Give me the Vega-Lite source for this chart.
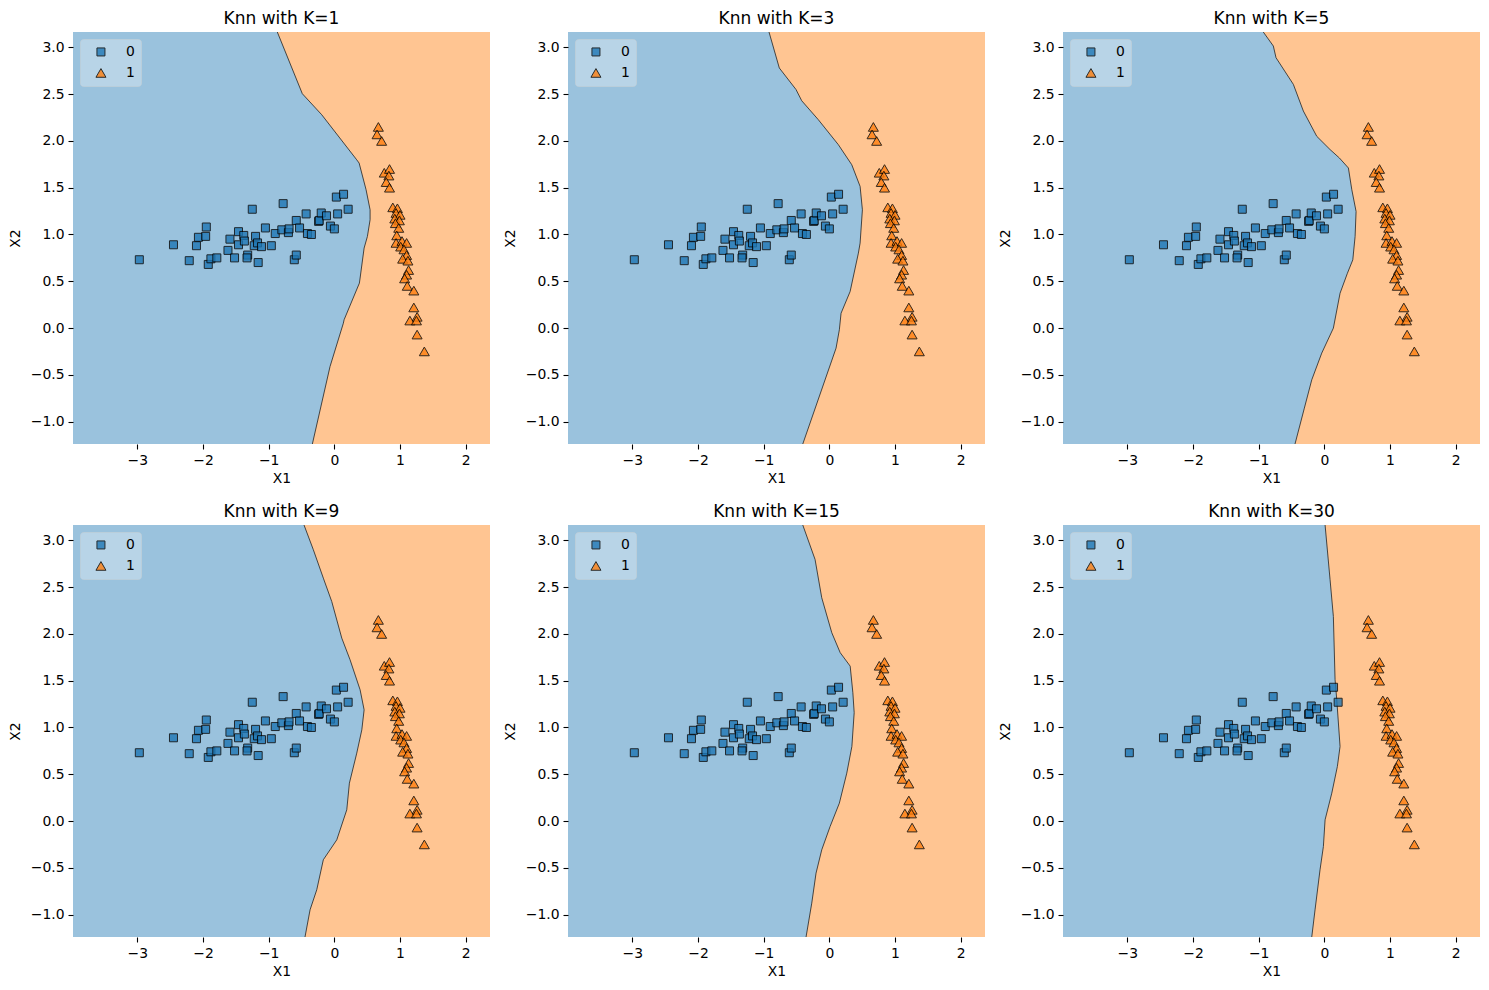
{
  "$schema": "https://vega.github.io/schema/vega-lite/v6.json",
  "padding": {"left": 8, "top": 10, "right": 5, "bottom": 5},
  "background": "white",
  "datasets": {
    "pts": [
      {"X1": -2.97, "X2": 0.73, "cls": "0"}, {"X1": -2.45, "X2": 0.89, "cls": "0"}, {"X1": -2.21, "X2": 0.72, "cls": "0"},
      {"X1": -2.10, "X2": 0.88, "cls": "0"}, {"X1": -2.07, "X2": 0.97, "cls": "0"}, {"X1": -1.96, "X2": 0.98, "cls": "0"},
      {"X1": -1.95, "X2": 1.08, "cls": "0"}, {"X1": -1.92, "X2": 0.68, "cls": "0"}, {"X1": -1.88, "X2": 0.74, "cls": "0"},
      {"X1": -1.79, "X2": 0.75, "cls": "0"}, {"X1": -1.62, "X2": 0.83, "cls": "0"}, {"X1": -1.59, "X2": 0.95, "cls": "0"},
      {"X1": -1.52, "X2": 0.75, "cls": "0"}, {"X1": -1.46, "X2": 1.03, "cls": "0"}, {"X1": -1.46, "X2": 0.89, "cls": "0"},
      {"X1": -1.38, "X2": 0.99, "cls": "0"}, {"X1": -1.37, "X2": 0.93, "cls": "0"}, {"X1": -1.32, "X2": 0.78, "cls": "0"},
      {"X1": -1.33, "X2": 0.75, "cls": "0"}, {"X1": -1.25, "X2": 1.27, "cls": "0"}, {"X1": -1.20, "X2": 0.98, "cls": "0"},
      {"X1": -1.22, "X2": 0.88, "cls": "0"}, {"X1": -1.17, "X2": 0.91, "cls": "0"}, {"X1": -1.11, "X2": 0.87, "cls": "0"},
      {"X1": -1.16, "X2": 0.70, "cls": "0"}, {"X1": -1.05, "X2": 1.07, "cls": "0"}, {"X1": -0.96, "X2": 0.88, "cls": "0"},
      {"X1": -0.90, "X2": 1.01, "cls": "0"}, {"X1": -0.80, "X2": 1.05, "cls": "0"}, {"X1": -0.78, "X2": 1.33, "cls": "0"},
      {"X1": -0.70, "X2": 1.02, "cls": "0"}, {"X1": -0.69, "X2": 1.06, "cls": "0"}, {"X1": -0.61, "X2": 0.73, "cls": "0"},
      {"X1": -0.58, "X2": 0.78, "cls": "0"}, {"X1": -0.58, "X2": 1.15, "cls": "0"}, {"X1": -0.53, "X2": 1.07, "cls": "0"},
      {"X1": -0.43, "X2": 1.22, "cls": "0"}, {"X1": -0.41, "X2": 1.01, "cls": "0"}, {"X1": -0.35, "X2": 1.00, "cls": "0"},
      {"X1": -0.24, "X2": 1.14, "cls": "0"}, {"X1": -0.23, "X2": 1.15, "cls": "0"}, {"X1": -0.20, "X2": 1.23, "cls": "0"},
      {"X1": -0.12, "X2": 1.20, "cls": "0"}, {"X1": -0.06, "X2": 1.09, "cls": "0"}, {"X1": 0.00, "X2": 1.06, "cls": "0"},
      {"X1": 0.05, "X2": 1.22, "cls": "0"}, {"X1": 0.03, "X2": 1.40, "cls": "0"}, {"X1": 0.14, "X2": 1.43, "cls": "0"},
      {"X1": 0.21, "X2": 1.27, "cls": "0"},
      {"X1": 0.67, "X2": 2.15, "cls": "1"}, {"X1": 0.65, "X2": 2.07, "cls": "1"}, {"X1": 0.72, "X2": 2.00, "cls": "1"},
      {"X1": 0.76, "X2": 1.66, "cls": "1"}, {"X1": 0.84, "X2": 1.70, "cls": "1"}, {"X1": 0.83, "X2": 1.63, "cls": "1"},
      {"X1": 0.79, "X2": 1.56, "cls": "1"}, {"X1": 0.84, "X2": 1.50, "cls": "1"}, {"X1": 0.89, "X2": 1.29, "cls": "1"},
      {"X1": 0.96, "X2": 1.28, "cls": "1"}, {"X1": 0.94, "X2": 1.23, "cls": "1"}, {"X1": 1.00, "X2": 1.21, "cls": "1"},
      {"X1": 0.92, "X2": 1.17, "cls": "1"}, {"X1": 0.99, "X2": 1.15, "cls": "1"}, {"X1": 0.93, "X2": 1.12, "cls": "1"},
      {"X1": 0.98, "X2": 1.07, "cls": "1"}, {"X1": 0.95, "X2": 0.99, "cls": "1"}, {"X1": 0.94, "X2": 0.91, "cls": "1"},
      {"X1": 1.03, "X2": 0.93, "cls": "1"}, {"X1": 1.10, "X2": 0.91, "cls": "1"}, {"X1": 1.01, "X2": 0.87, "cls": "1"},
      {"X1": 1.06, "X2": 0.84, "cls": "1"}, {"X1": 1.10, "X2": 0.78, "cls": "1"}, {"X1": 1.04, "X2": 0.74, "cls": "1"},
      {"X1": 1.12, "X2": 0.72, "cls": "1"}, {"X1": 1.13, "X2": 0.62, "cls": "1"}, {"X1": 1.10, "X2": 0.57, "cls": "1"},
      {"X1": 1.07, "X2": 0.53, "cls": "1"}, {"X1": 1.11, "X2": 0.45, "cls": "1"}, {"X1": 1.21, "X2": 0.40, "cls": "1"},
      {"X1": 1.21, "X2": 0.22, "cls": "1"}, {"X1": 1.26, "X2": 0.12, "cls": "1"}, {"X1": 1.15, "X2": 0.08, "cls": "1"},
      {"X1": 1.25, "X2": 0.08, "cls": "1"}, {"X1": 1.26, "X2": -0.07, "cls": "1"}, {"X1": 1.37, "X2": -0.25, "cls": "1"}
    ],
    "bd": [
      {"k": 1, "X1": -0.869, "X2": 3.165}, {"k": 1, "X1": -0.488, "X2": 2.505}, {"k": 1, "X1": -0.192, "X2": 2.28},
      {"k": 1, "X1": 0.341, "X2": 1.798}, {"k": 1, "X1": 0.377, "X2": 1.764}, {"k": 1, "X1": 0.483, "X2": 1.478},
      {"k": 1, "X1": 0.544, "X2": 1.264}, {"k": 1, "X1": 0.544, "X2": 1.157}, {"k": 1, "X1": 0.503, "X2": 0.979},
      {"k": 1, "X1": 0.453, "X2": 0.855}, {"k": 1, "X1": 0.392, "X2": 0.534}, {"k": 1, "X1": 0.381, "X2": 0.48},
      {"k": 1, "X1": 0.148, "X2": 0.088}, {"k": 1, "X1": 0.137, "X2": 0.052}, {"k": 1, "X1": -0.066, "X2": -0.412},
      {"k": 1, "X1": -0.335, "X2": -1.24},

      {"k": 3, "X1": -0.919, "X2": 3.165}, {"k": 3, "X1": -0.762, "X2": 2.78}, {"k": 3, "X1": -0.508, "X2": 2.55},
      {"k": 3, "X1": -0.421, "X2": 2.43}, {"k": 3, "X1": -0.168, "X2": 2.227}, {"k": 3, "X1": 0.137, "X2": 1.96},
      {"k": 3, "X1": 0.341, "X2": 1.746}, {"k": 3, "X1": 0.468, "X2": 1.514}, {"k": 3, "X1": 0.503, "X2": 1.264},
      {"k": 3, "X1": 0.468, "X2": 0.908}, {"k": 3, "X1": 0.442, "X2": 0.801}, {"k": 3, "X1": 0.316, "X2": 0.39},
      {"k": 3, "X1": 0.178, "X2": 0.158}, {"k": 3, "X1": 0.152, "X2": -0.019}, {"k": 3, "X1": 0.102, "X2": -0.215},
      {"k": 3, "X1": -0.405, "X2": -1.24},

      {"k": 5, "X1": -0.930, "X2": 3.165}, {"k": 5, "X1": -0.777, "X2": 3.015}, {"k": 5, "X1": -0.736, "X2": 2.89},
      {"k": 5, "X1": -0.472, "X2": 2.605}, {"k": 5, "X1": -0.320, "X2": 2.32}, {"k": 5, "X1": -0.116, "X2": 2.05},
      {"k": 5, "X1": 0.087, "X2": 1.908}, {"k": 5, "X1": 0.229, "X2": 1.818}, {"k": 5, "X1": 0.366, "X2": 1.711},
      {"k": 5, "X1": 0.418, "X2": 1.478}, {"k": 5, "X1": 0.483, "X2": 1.246}, {"k": 5, "X1": 0.468, "X2": 0.979},
      {"k": 5, "X1": 0.433, "X2": 0.729}, {"k": 5, "X1": 0.351, "X2": 0.586}, {"k": 5, "X1": 0.239, "X2": 0.372},
      {"k": 5, "X1": 0.137, "X2": -0.001}, {"k": 5, "X1": -0.040, "X2": -0.268}, {"k": 5, "X1": -0.192, "X2": -0.554},
      {"k": 5, "X1": -0.305, "X2": -0.857}, {"k": 5, "X1": -0.447, "X2": -1.24},

      {"k": 9, "X1": -0.462, "X2": 3.165}, {"k": 9, "X1": -0.32, "X2": 2.90}, {"k": 9, "X1": -0.168, "X2": 2.597},
      {"k": 9, "X1": -0.040, "X2": 2.347}, {"k": 9, "X1": 0.113, "X2": 1.955}, {"k": 9, "X1": 0.239, "X2": 1.724},
      {"k": 9, "X1": 0.392, "X2": 1.403}, {"k": 9, "X1": 0.453, "X2": 1.189}, {"k": 9, "X1": 0.418, "X2": 0.975},
      {"k": 9, "X1": 0.341, "X2": 0.726}, {"k": 9, "X1": 0.229, "X2": 0.405}, {"k": 9, "X1": 0.189, "X2": 0.12},
      {"k": 9, "X1": 0.037, "X2": -0.201}, {"k": 9, "X1": -0.168, "X2": -0.414}, {"k": 9, "X1": -0.268, "X2": -0.735},
      {"k": 9, "X1": -0.37, "X2": -0.949}, {"k": 9, "X1": -0.447, "X2": -1.24},

      {"k": 15, "X1": -0.405, "X2": 3.165}, {"k": 15, "X1": -0.218, "X2": 2.797}, {"k": 15, "X1": -0.116, "X2": 2.387},
      {"k": 15, "X1": 0.037, "X2": 2.013}, {"k": 15, "X1": 0.165, "X2": 1.80}, {"k": 15, "X1": 0.317, "X2": 1.656},
      {"k": 15, "X1": 0.358, "X2": 1.371}, {"k": 15, "X1": 0.378, "X2": 1.158}, {"k": 15, "X1": 0.343, "X2": 0.797},
      {"k": 15, "X1": 0.265, "X2": 0.512}, {"k": 15, "X1": 0.152, "X2": 0.191}, {"k": 15, "X1": 0.011, "X2": -0.059},
      {"k": 15, "X1": -0.116, "X2": -0.308}, {"k": 15, "X1": -0.203, "X2": -0.557}, {"k": 15, "X1": -0.268, "X2": -0.878},
      {"k": 15, "X1": -0.355, "X2": -1.24},

      {"k": 30, "X1": 0.011, "X2": 3.165}, {"k": 30, "X1": 0.087, "X2": 2.58}, {"k": 30, "X1": 0.137, "X2": 2.187},
      {"k": 30, "X1": 0.163, "X2": 1.51}, {"k": 30, "X1": 0.189, "X2": 1.296}, {"k": 30, "X1": 0.239, "X2": 0.797},
      {"k": 30, "X1": 0.198, "X2": 0.583}, {"k": 30, "X1": 0.113, "X2": 0.298}, {"k": 30, "X1": 0.011, "X2": 0.013},
      {"k": 30, "X1": -0.015, "X2": -0.273}, {"k": 30, "X1": -0.066, "X2": -0.522}, {"k": 30, "X1": -0.142, "X2": -0.95},
      {"k": 30, "X1": -0.192, "X2": -1.24}
    ]
  },
  "columns": 3,
  "spacing": {"row": 81, "column": 78},
  "bounds": "flush",
  "resolve": {
    "scale": {"color": "independent", "shape": "independent", "size": "independent"},
    "legend": {"color": "independent", "shape": "independent"}
  },
  "concat": [
    {
      "title": "Knn with K=1", "width": 417, "height": 412,
      "encoding": {
        "x": {"field": "X1", "type": "quantitative", "title": "X1", "scale": {"domain": [-3.98, 2.37], "nice": false, "zero": false}, "axis": {"values": [-3, -2, -1, 0, 1, 2], "format": "d"}},
        "y": {"field": "X2", "type": "quantitative", "title": "X2", "scale": {"domain": [-1.24, 3.165], "nice": false, "zero": false}, "axis": {"values": [-1, -0.5, 0, 0.5, 1, 1.5, 2, 2.5, 3], "format": ".1f"}}
      },
      "layer": [
        {"data": {"name": "bd"}, "transform": [{"filter": "datum.k == 1"}], "mark": {"type": "area", "orient": "horizontal", "color": "#FFC592", "clip": true}, "encoding": {"x2": {"datum": 2.37}}},
        {"data": {"name": "bd"}, "transform": [{"filter": "datum.k == 1"}], "mark": {"type": "line", "orient": "horizontal", "color": "#222222", "strokeWidth": 0.8, "clip": true}, "encoding": {"order": {"field": "X2", "type": "quantitative"}}},
        {"data": {"name": "pts"}, "mark": {"type": "point", "filled": true, "stroke": "black", "strokeWidth": 1, "opacity": 0.8}, "encoding": {
          "color": {"field": "cls", "type": "nominal", "scale": {"domain": ["0", "1"], "range": ["#1f77b4", "#ff7f0e"]}, "legend": {"title": null}},
          "shape": {"field": "cls", "type": "nominal", "scale": {"domain": ["0", "1"], "range": ["square", "triangle-up"]}, "legend": {"title": null}},
          "size": {"field": "cls", "type": "ordinal", "scale": {"domain": ["0", "1"], "range": [64, 100]}, "legend": null}}}
      ]
    },
    {
      "title": "Knn with K=3", "width": 417, "height": 412,
      "encoding": {
        "x": {"field": "X1", "type": "quantitative", "title": "X1", "scale": {"domain": [-3.98, 2.37], "nice": false, "zero": false}, "axis": {"values": [-3, -2, -1, 0, 1, 2], "format": "d"}},
        "y": {"field": "X2", "type": "quantitative", "title": "X2", "scale": {"domain": [-1.24, 3.165], "nice": false, "zero": false}, "axis": {"values": [-1, -0.5, 0, 0.5, 1, 1.5, 2, 2.5, 3], "format": ".1f"}}
      },
      "layer": [
        {"data": {"name": "bd"}, "transform": [{"filter": "datum.k == 3"}], "mark": {"type": "area", "orient": "horizontal", "color": "#FFC592", "clip": true}, "encoding": {"x2": {"datum": 2.37}}},
        {"data": {"name": "bd"}, "transform": [{"filter": "datum.k == 3"}], "mark": {"type": "line", "orient": "horizontal", "color": "#222222", "strokeWidth": 0.8, "clip": true}, "encoding": {"order": {"field": "X2", "type": "quantitative"}}},
        {"data": {"name": "pts"}, "mark": {"type": "point", "filled": true, "stroke": "black", "strokeWidth": 1, "opacity": 0.8}, "encoding": {
          "color": {"field": "cls", "type": "nominal", "scale": {"domain": ["0", "1"], "range": ["#1f77b4", "#ff7f0e"]}, "legend": {"title": null}},
          "shape": {"field": "cls", "type": "nominal", "scale": {"domain": ["0", "1"], "range": ["square", "triangle-up"]}, "legend": {"title": null}},
          "size": {"field": "cls", "type": "ordinal", "scale": {"domain": ["0", "1"], "range": [64, 100]}, "legend": null}}}
      ]
    },
    {
      "title": "Knn with K=5", "width": 417, "height": 412,
      "encoding": {
        "x": {"field": "X1", "type": "quantitative", "title": "X1", "scale": {"domain": [-3.98, 2.37], "nice": false, "zero": false}, "axis": {"values": [-3, -2, -1, 0, 1, 2], "format": "d"}},
        "y": {"field": "X2", "type": "quantitative", "title": "X2", "scale": {"domain": [-1.24, 3.165], "nice": false, "zero": false}, "axis": {"values": [-1, -0.5, 0, 0.5, 1, 1.5, 2, 2.5, 3], "format": ".1f"}}
      },
      "layer": [
        {"data": {"name": "bd"}, "transform": [{"filter": "datum.k == 5"}], "mark": {"type": "area", "orient": "horizontal", "color": "#FFC592", "clip": true}, "encoding": {"x2": {"datum": 2.37}}},
        {"data": {"name": "bd"}, "transform": [{"filter": "datum.k == 5"}], "mark": {"type": "line", "orient": "horizontal", "color": "#222222", "strokeWidth": 0.8, "clip": true}, "encoding": {"order": {"field": "X2", "type": "quantitative"}}},
        {"data": {"name": "pts"}, "mark": {"type": "point", "filled": true, "stroke": "black", "strokeWidth": 1, "opacity": 0.8}, "encoding": {
          "color": {"field": "cls", "type": "nominal", "scale": {"domain": ["0", "1"], "range": ["#1f77b4", "#ff7f0e"]}, "legend": {"title": null}},
          "shape": {"field": "cls", "type": "nominal", "scale": {"domain": ["0", "1"], "range": ["square", "triangle-up"]}, "legend": {"title": null}},
          "size": {"field": "cls", "type": "ordinal", "scale": {"domain": ["0", "1"], "range": [64, 100]}, "legend": null}}}
      ]
    },
    {
      "title": "Knn with K=9", "width": 417, "height": 412,
      "encoding": {
        "x": {"field": "X1", "type": "quantitative", "title": "X1", "scale": {"domain": [-3.98, 2.37], "nice": false, "zero": false}, "axis": {"values": [-3, -2, -1, 0, 1, 2], "format": "d"}},
        "y": {"field": "X2", "type": "quantitative", "title": "X2", "scale": {"domain": [-1.24, 3.165], "nice": false, "zero": false}, "axis": {"values": [-1, -0.5, 0, 0.5, 1, 1.5, 2, 2.5, 3], "format": ".1f"}}
      },
      "layer": [
        {"data": {"name": "bd"}, "transform": [{"filter": "datum.k == 9"}], "mark": {"type": "area", "orient": "horizontal", "color": "#FFC592", "clip": true}, "encoding": {"x2": {"datum": 2.37}}},
        {"data": {"name": "bd"}, "transform": [{"filter": "datum.k == 9"}], "mark": {"type": "line", "orient": "horizontal", "color": "#222222", "strokeWidth": 0.8, "clip": true}, "encoding": {"order": {"field": "X2", "type": "quantitative"}}},
        {"data": {"name": "pts"}, "mark": {"type": "point", "filled": true, "stroke": "black", "strokeWidth": 1, "opacity": 0.8}, "encoding": {
          "color": {"field": "cls", "type": "nominal", "scale": {"domain": ["0", "1"], "range": ["#1f77b4", "#ff7f0e"]}, "legend": {"title": null}},
          "shape": {"field": "cls", "type": "nominal", "scale": {"domain": ["0", "1"], "range": ["square", "triangle-up"]}, "legend": {"title": null}},
          "size": {"field": "cls", "type": "ordinal", "scale": {"domain": ["0", "1"], "range": [64, 100]}, "legend": null}}}
      ]
    },
    {
      "title": "Knn with K=15", "width": 417, "height": 412,
      "encoding": {
        "x": {"field": "X1", "type": "quantitative", "title": "X1", "scale": {"domain": [-3.98, 2.37], "nice": false, "zero": false}, "axis": {"values": [-3, -2, -1, 0, 1, 2], "format": "d"}},
        "y": {"field": "X2", "type": "quantitative", "title": "X2", "scale": {"domain": [-1.24, 3.165], "nice": false, "zero": false}, "axis": {"values": [-1, -0.5, 0, 0.5, 1, 1.5, 2, 2.5, 3], "format": ".1f"}}
      },
      "layer": [
        {"data": {"name": "bd"}, "transform": [{"filter": "datum.k == 15"}], "mark": {"type": "area", "orient": "horizontal", "color": "#FFC592", "clip": true}, "encoding": {"x2": {"datum": 2.37}}},
        {"data": {"name": "bd"}, "transform": [{"filter": "datum.k == 15"}], "mark": {"type": "line", "orient": "horizontal", "color": "#222222", "strokeWidth": 0.8, "clip": true}, "encoding": {"order": {"field": "X2", "type": "quantitative"}}},
        {"data": {"name": "pts"}, "mark": {"type": "point", "filled": true, "stroke": "black", "strokeWidth": 1, "opacity": 0.8}, "encoding": {
          "color": {"field": "cls", "type": "nominal", "scale": {"domain": ["0", "1"], "range": ["#1f77b4", "#ff7f0e"]}, "legend": {"title": null}},
          "shape": {"field": "cls", "type": "nominal", "scale": {"domain": ["0", "1"], "range": ["square", "triangle-up"]}, "legend": {"title": null}},
          "size": {"field": "cls", "type": "ordinal", "scale": {"domain": ["0", "1"], "range": [64, 100]}, "legend": null}}}
      ]
    },
    {
      "title": "Knn with K=30", "width": 417, "height": 412,
      "encoding": {
        "x": {"field": "X1", "type": "quantitative", "title": "X1", "scale": {"domain": [-3.98, 2.37], "nice": false, "zero": false}, "axis": {"values": [-3, -2, -1, 0, 1, 2], "format": "d"}},
        "y": {"field": "X2", "type": "quantitative", "title": "X2", "scale": {"domain": [-1.24, 3.165], "nice": false, "zero": false}, "axis": {"values": [-1, -0.5, 0, 0.5, 1, 1.5, 2, 2.5, 3], "format": ".1f"}}
      },
      "layer": [
        {"data": {"name": "bd"}, "transform": [{"filter": "datum.k == 30"}], "mark": {"type": "area", "orient": "horizontal", "color": "#FFC592", "clip": true}, "encoding": {"x2": {"datum": 2.37}}},
        {"data": {"name": "bd"}, "transform": [{"filter": "datum.k == 30"}], "mark": {"type": "line", "orient": "horizontal", "color": "#222222", "strokeWidth": 0.8, "clip": true}, "encoding": {"order": {"field": "X2", "type": "quantitative"}}},
        {"data": {"name": "pts"}, "mark": {"type": "point", "filled": true, "stroke": "black", "strokeWidth": 1, "opacity": 0.8}, "encoding": {
          "color": {"field": "cls", "type": "nominal", "scale": {"domain": ["0", "1"], "range": ["#1f77b4", "#ff7f0e"]}, "legend": {"title": null}},
          "shape": {"field": "cls", "type": "nominal", "scale": {"domain": ["0", "1"], "range": ["square", "triangle-up"]}, "legend": {"title": null}},
          "size": {"field": "cls", "type": "ordinal", "scale": {"domain": ["0", "1"], "range": [64, 100]}, "legend": null}}}
      ]
    }
  ],
  "config": {
    "font": "DejaVu Sans",
    "view": {"fill": "#9AC2DD", "stroke": null},
    "axis": {"domain": false, "grid": false, "tickColor": "black", "tickSize": 5, "tickWidth": 1.1, "labelFontSize": 13.9, "labelColor": "black", "labelPadding": 4, "titleFontSize": 13.9, "titleFontWeight": "normal", "titleColor": "black", "titlePadding": 5, "labelFont": "DejaVu Sans", "titleFont": "DejaVu Sans"},
    "axisY": {"titlePadding": 8},
    "title": {"fontSize": 17, "fontWeight": "normal", "font": "DejaVu Sans", "color": "black", "offset": 4},
    "legend": {"orient": "top-left", "offset": 7, "padding": 6, "fillColor": "rgba(255,255,255,0.3)", "strokeColor": "rgba(210,210,210,0.4)", "cornerRadius": 3, "labelFontSize": 13.9, "labelFont": "DejaVu Sans", "labelColor": "black", "symbolSize": 50, "symbolStrokeColor": "black", "symbolStrokeWidth": 1, "rowPadding": 6, "labelOffset": 18, "symbolOffset": 8}
  }
}
